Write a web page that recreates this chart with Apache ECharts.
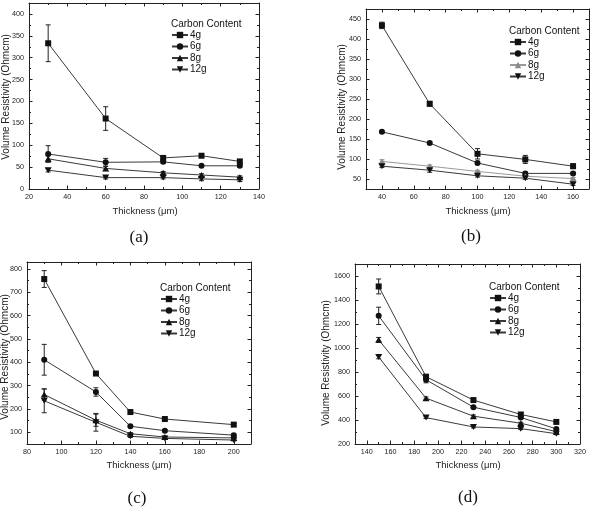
<!DOCTYPE html>
<html>
<head>
<meta charset="utf-8">
<script src="https://cdn.jsdelivr.net/npm/echarts@6/dist/echarts.min.js"></script>
<style>
html, body { margin: 0; padding: 0; background: #fff; }
#chart { width: 595px; height: 512px; }
</style>
</head>
<body>
<div id="chart"></div>
<script>
// carbon content groups (legend)
const groups = ['4g', '6g', '8g', '12g'];

// (a)
const thickA = [30, 60, 90, 110, 130];
const resA4 = [333, 161, 71, 76, 63];
const resA6 = [80, 61, 62, 53, 53];
const resA8 = [69, 47, 37, 32, 27];
const resA12 = [43, 26, 26, 23, 21];
const errA4 = [42, 27, 4, 3, 4];
const errA6 = [19, 9, 3, 3, 3];
const errA8 = [7, 5, 3, 3, 3];
const errA12 = [4, 3, 3, 4, 4];
const xTicksA = [20, 40, 60, 80, 100, 120, 140];
const yTicksA = [0, 50, 100, 150, 200, 250, 300, 350, 400];

// (b)
const thickB = [40, 70, 100, 130, 160];
const resB4 = [434, 238, 113, 99, 82];
const resB6 = [168, 140, 90, 64, 64];
const resB8 = [94, 82, 69, 57, 51];
const resB12 = [82, 72, 58, 52, 37];
const errB4 = [8, 6, 13, 10, 6];
const errB6 = [3, 3, 4, 3, 3];
const errB8 = [4, 3, 3, 3, 3];
const errB12 = [3, 5, 3, 3, 3];
const xTicksB = [40, 60, 80, 100, 120, 140, 160];
const yTicksB = [50, 100, 150, 200, 250, 300, 350, 400, 450];

// (c)
const thickC = [90, 120, 140, 160, 200];
const resC4 = [757, 352, 187, 157, 133];
const resC6 = [411, 273, 126, 107, 88];
const resC8 = [262, 152, 94, 80, 76];
const resC12 = [235, 143, 83, 74, 67];
const errC4 = [36, 5, 10, 8, 5];
const errC6 = [66, 18, 5, 5, 5];
const errC8 = [24, 26, 5, 4, 4];
const errC12 = [51, 38, 5, 4, 4];
const xTicksC = [80, 100, 120, 140, 160, 180, 200];
const yTicksC = [100, 200, 300, 400, 500, 600, 700, 800];

// (d)
const thickD = [150, 190, 230, 270, 300];
const resD4 = [1513, 761, 566, 446, 384];
const resD6 = [1268, 735, 507, 421, 326];
const resD8 = [1068, 582, 432, 373, 303];
const resD12 = [925, 420, 342, 328, 286];
const errD4 = [62, 15, 15, 12, 8];
const errD6 = [72, 25, 10, 10, 8];
const errD8 = [20, 10, 10, 8, 8];
const errD12 = [15, 8, 8, 8, 8];
const xTicksD = [140, 160, 180, 200, 220, 240, 260, 280, 300, 320];
const yTicksD = [200, 400, 600, 800, 1000, 1200, 1400, 1600];

const INK = '#222';
const FONT = '"Liberation Sans", Arial, sans-serif';
const invTriangle = 'path://M0,0 L10,0 L5,9 Z';
const symbols = ['rect', 'circle', 'triangle', invTriangle];
const symSizes = [6, 6, [7, 6], [7, 6]];

const panels = [
  { tag: 'a', x: thickA, ys: [resA4, resA6, resA8, resA12], errs: [errA4, errA6, errA8, errA12],
    xTicks: xTicksA, yTicks: yTicksA, xMin: 20, xMax: 140, yMin: 0, yMax: 425,
    box: { left: 29, top: 3, width: 230, height: 186 },
    legend: [171, 24], ytitle: [6, 97], xtitle: [145, 211], caption: [139, 238] },
  { tag: 'b', x: thickB, ys: [resB4, resB6, resB8, resB12], errs: [errB4, errB6, errB8, errB12],
    xTicks: xTicksB, yTicks: yTicksB, xMin: 30, xMax: 170, yMin: 25, yMax: 475,
    box: { left: 366, top: 9, width: 223, height: 180 },
    legend: [509, 31], ytitle: [342, 107], xtitle: [478, 211], caption: [471, 237],
    grey: 2 },
  { tag: 'c', x: thickC, ys: [resC4, resC6, resC8, resC12], errs: [errC4, errC6, errC8, errC12],
    xTicks: xTicksC, yTicks: yTicksC, xMin: 80, xMax: 210, yMin: 50, yMax: 830,
    box: { left: 27, top: 262, width: 224, height: 182 },
    legend: [160, 288], ytitle: [5, 357], xtitle: [139, 465], caption: [137, 499] },
  { tag: 'd', x: thickD, ys: [resD4, resD6, resD8, resD12], errs: [errD4, errD6, errD8, errD12],
    xTicks: xTicksD, yTicks: yTicksD, xMin: 130, xMax: 320, yMin: 200, yMax: 1700,
    box: { left: 355, top: 264, width: 225, height: 180 },
    legend: [489, 287], ytitle: [326, 363], xtitle: [468, 465], caption: [468, 498] }
];

// minor ticks halfway between the labelled ones
function midTicks(ticks, min, max) {
  const step = ticks[1] - ticks[0];
  const out = [];
  for (let v = ticks[0] - step / 2; v < max; v += step) {
    if (v > min) out.push(v);
  }
  return out;
}

function errorBar(params, api) {
  const x = api.value(0), y = api.value(1), e = api.value(2);
  const hi = api.coord([x, y + e]);
  const lo = api.coord([x, y - e]);
  const w = 2.5;
  const st = { stroke: api.visual('color'), lineWidth: 1 };
  return {
    type: 'group',
    children: [
      { type: 'line', shape: { x1: hi[0], y1: hi[1], x2: lo[0], y2: lo[1] }, style: st },
      { type: 'line', shape: { x1: hi[0] - w, y1: hi[1], x2: hi[0] + w, y2: hi[1] }, style: st },
      { type: 'line', shape: { x1: lo[0] - w, y1: lo[1], x2: lo[0] + w, y2: lo[1] }, style: st }
    ]
  };
}

const grid = [], xAxis = [], yAxis = [], series = [], legend = [], graphic = [];

function axis(gi, pos, min, max, ticks, len, line, label) {
  return {
    type: 'value', gridIndex: gi, position: pos, min: min, max: max,
    axisLine: { show: line, onZero: false, lineStyle: { color: INK, width: 1 } },
    axisTick: { show: true, inside: true, length: len, customValues: ticks, lineStyle: { color: INK } },
    axisLabel: label ? {
      show: true, customValues: ticks, color: INK, fontSize: 7.2, fontFamily: FONT, margin: 5,
      formatter: v => String(v)
    } : { show: false },
    splitLine: { show: false }
  };
}

panels.forEach((p, i) => {
  grid.push(Object.assign({ containLabel: false, outerBoundsMode: 'none' }, p.box));
  const xMinor = midTicks(p.xTicks, p.xMin, p.xMax);
  const yMinor = midTicks(p.yTicks, p.yMin, p.yMax);
  xAxis.push(
    axis(i, 'bottom', p.xMin, p.xMax, p.xTicks, 3.5, true, true),
    axis(i, 'top', p.xMin, p.xMax, p.xTicks, 3.5, true, false),
    axis(i, 'bottom', p.xMin, p.xMax, xMinor, 2, false, false),
    axis(i, 'top', p.xMin, p.xMax, xMinor, 2, false, false)
  );
  yAxis.push(
    axis(i, 'left', p.yMin, p.yMax, p.yTicks, 3.5, true, true),
    axis(i, 'right', p.yMin, p.yMax, p.yTicks, 3.5, true, false),
    axis(i, 'left', p.yMin, p.yMax, yMinor, 2, false, false),
    axis(i, 'right', p.yMin, p.yMax, yMinor, 2, false, false)
  );

  const names = [];
  groups.forEach((g, k) => {
    const name = p.tag + ' ' + g;
    names.push(name);
    const isGrey = p.grey === k;
    const lineColor = isGrey ? '#9a9a9a' : '#3a3a3a';
    const symColor = isGrey ? '#8a8a8a' : '#111';
    series.push({
      name: name, type: 'line', xAxisIndex: 4 * i, yAxisIndex: 4 * i,
      data: p.x.map((v, j) => [v, p.ys[k][j]]),
      symbol: symbols[k], symbolSize: symSizes[k], showSymbol: true,
      lineStyle: { color: lineColor, width: 1 },
      itemStyle: { color: symColor },
      z: 3
    });
    series.push({
      type: 'custom', xAxisIndex: 4 * i, yAxisIndex: 4 * i,
      data: p.x.map((v, j) => [v, p.ys[k][j], p.errs[k][j]]),
      renderItem: errorBar, itemStyle: { color: isGrey ? '#8a8a8a' : '#222' },
      encode: { x: 0, y: 1 }, silent: true, z: 2
    });
  });

  legend.push({
    orient: 'vertical', left: p.legend[0], top: p.legend[1] + 6,
    data: names, itemWidth: 16, itemHeight: 8, itemGap: 1.5,
    formatter: n => n.split(' ')[1],
    textStyle: { color: '#111', fontSize: 10, fontFamily: FONT, padding: [0, 0, 0, -3] },
    selectedMode: false, padding: 0
  });

  graphic.push(
    { type: 'text', x: p.legend[0], y: p.legend[1],
      style: { text: 'Carbon Content', fill: '#111', font: '10px ' + FONT, align: 'left', verticalAlign: 'middle' } },
    { type: 'text', x: p.xtitle[0], y: p.xtitle[1],
      style: { text: 'Thickness (\u03bcm)', fill: INK, font: '9.5px ' + FONT, align: 'center', verticalAlign: 'middle' } },
    { type: 'text', x: p.ytitle[0], y: p.ytitle[1], rotation: Math.PI / 2,
      style: { text: 'Volume Resistivity (Ohmcm)', fill: INK, font: '10px ' + FONT, align: 'center', verticalAlign: 'middle' } },
    { type: 'text', x: p.caption[0], y: p.caption[1],
      style: { text: '(' + p.tag + ')', fill: '#111', font: '17px "Liberation Serif", "DejaVu Serif", serif', align: 'center', verticalAlign: 'middle' } }
  );
});

const chart = echarts.init(document.getElementById('chart'), null, { renderer: 'canvas' });
chart.setOption({
  backgroundColor: '#fff',
  animation: false,
  grid: grid,
  xAxis: xAxis,
  yAxis: yAxis,
  legend: legend,
  graphic: graphic,
  series: series
});
</script>
</body>
</html>
